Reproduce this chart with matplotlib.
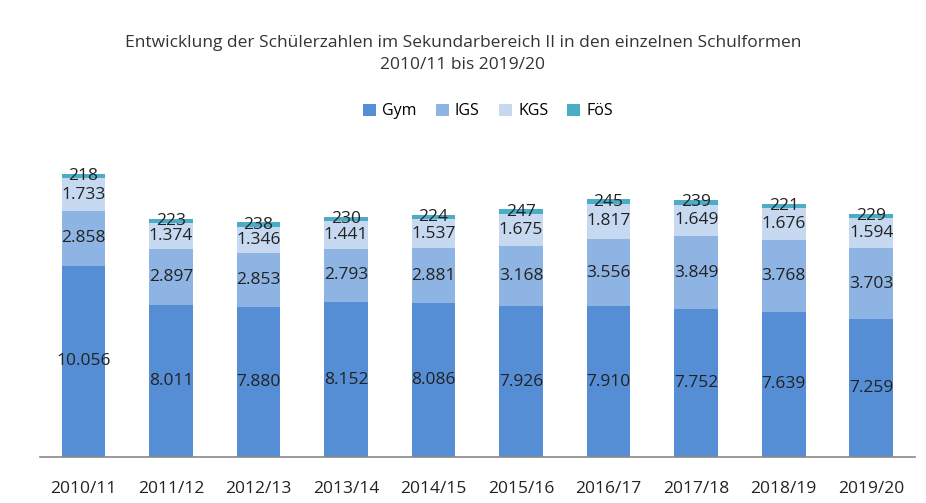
import matplotlib
matplotlib.use('Agg')
import matplotlib.pyplot as plt
import numpy as np

years = ['2010/11', '2011/12', '2012/13', '2013/14', '2014/15',
         '2015/16', '2016/17', '2017/18', '2018/19', '2019/20']
gym = [10056, 8011, 7880, 8152, 8086, 7926, 7910, 7752, 7639, 7259]
igs = [2858, 2897, 2853, 2793, 2881, 3168, 3556, 3849, 3768, 3703]
kgs = [1733, 1374, 1346, 1441, 1537, 1675, 1817, 1649, 1676, 1594]
foes = [218, 223, 238, 230, 224, 247, 245, 239, 221, 229]

series = [('Gym', gym, '#558ed5'), ('IGS', igs, '#8eb4e3'),
          ('KGS', kgs, '#c6d9f1'), ('FöS', foes, '#4bacc6')]

plt.rcParams['font.family'] = ['Open Sans', 'DejaVu Sans']

fig = plt.figure(figsize=(9.26, 5.03), dpi=100)
ax = fig.add_axes([0.043, 0.091, 0.945, 0.61])

x = np.arange(len(years))
bottom = np.zeros(len(years))
for name, vals, color in series:
    vals = np.array(vals, dtype=float)
    ax.bar(x, vals, width=0.5, bottom=bottom, color=color, label=name)
    for xi, b, v in zip(x, bottom, vals):
        txt = f"{int(v):,}".replace(',', '.')
        ax.text(xi, b + v / 2, txt, ha='center', va='center',
                fontsize=12.5, color='#222222')
    bottom += vals

ax.set_xlim(-0.5, len(years) - 0.5)
ax.set_ylim(0, 16100)
ax.set_yticks([])
for s in ['top', 'right', 'left']:
    ax.spines[s].set_visible(False)
ax.spines['bottom'].set_color('#888888')
ax.spines['bottom'].set_linewidth(1.2)
ax.set_xticks(x)
ax.set_xticklabels(years, fontsize=12.5, color='#222222')
ax.tick_params(axis='x', length=0, pad=17)

fig.text(0.5, 0.893, 'Entwicklung der Schülerzahlen im Sekundarbereich II in den einzelnen Schulformen\n2010/11 bis 2019/20',
         ha='center', va='center', fontsize=12.5, color='#333333', linespacing=1.45)

fig.legend(loc='center', bbox_to_anchor=(0.527, 0.779), ncol=4, frameon=False,
           fontsize=11.5, handlelength=0.8, handleheight=0.8, handletextpad=0.4,
           columnspacing=1.2)

fig.savefig('out.png', dpi=100)
